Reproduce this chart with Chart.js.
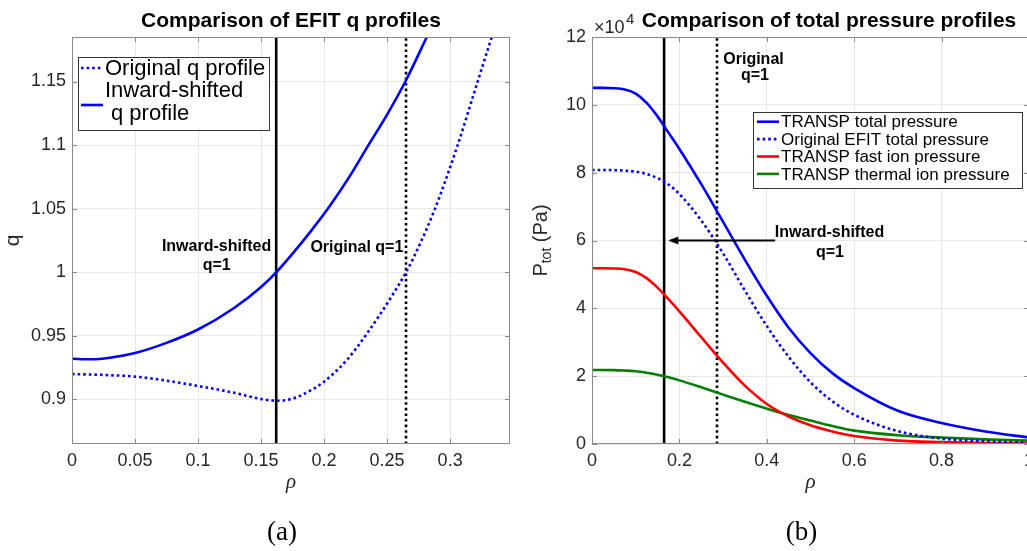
<!DOCTYPE html>
<html>
<head>
<meta charset="utf-8">
<title>EFIT q and pressure profiles</title>
<script src="https://cdn.jsdelivr.net/npm/chart.js@4.4.1/dist/chart.umd.min.js"></script>
<style>
  html, body { margin: 0; padding: 0; background: #fff; overflow: hidden; width: 1027px; height: 551px; }
  .panel { position: absolute; top: 0; width: 520px; height: 551px; }
  #panelA { left: 0; }
  #panelB { left: 520px; }
</style>
</head>
<body>
<div class="panel" id="panelA"><canvas id="qChart" width="520" height="551"></canvas></div>
<div class="panel" id="panelB"><canvas id="pChart" width="520" height="551"></canvas></div>

<script>
// 1. DATA

// (a) q profiles
const rhoInward   = [0, 0.015, 0.03, 0.05, 0.075, 0.1, 0.128, 0.15, 0.162, 0.175, 0.19, 0.2048, 0.22, 0.2352, 0.25, 0.265, 0.2815];
const qInward     = [0.932, 0.9316, 0.9328, 0.9365, 0.9445, 0.955, 0.9715, 0.9885, 1.0, 1.0147, 1.033, 1.0525, 1.075, 1.1, 1.124, 1.151, 1.185];
const rhoOriginal = [0, 0.025, 0.05, 0.075, 0.1, 0.128, 0.151, 0.163, 0.176, 0.19, 0.2, 0.218, 0.234, 0.251, 0.265, 0.271, 0.288, 0.3053, 0.3212, 0.333];
const qOriginal   = [0.92, 0.9193, 0.918, 0.9148, 0.9106, 0.9054, 0.9002, 0.899, 0.901, 0.9075, 0.914, 0.931, 0.9518, 0.977, 1.0, 1.0115, 1.05, 1.098, 1.148, 1.185];
const qOneA       = [0.162, 0.265];            // rho of q=1: inward-shifted, original
const rhoRangeA   = [0, 0.3475];
const qRange      = [0.865, 1.185];
const rhoTicksA   = [0, 0.05, 0.1, 0.15, 0.2, 0.25, 0.3];
const qTicks      = [0.9, 0.95, 1, 1.05, 1.1, 1.15];

// (b) pressure profiles, units of 1e4 Pa
const rhoGrid       = [0, 0.025, 0.05, 0.075, 0.1, 0.125, 0.15, 0.175, 0.2, 0.25, 0.3, 0.35, 0.4, 0.45, 0.5, 0.55, 0.6, 0.7, 0.8, 0.9, 1.0];
const transpTotal   = [10.5, 10.5, 10.49, 10.45, 10.33, 10.06, 9.66, 9.18, 8.70, 7.66, 6.55, 5.43, 4.37, 3.43, 2.68, 2.09, 1.65, 0.98, 0.62, 0.37, 0.19];
const efitTotal     = [8.08, 8.08, 8.075, 8.06, 8.03, 7.96, 7.84, 7.65, 7.37, 6.59, 5.62, 4.52, 3.48, 2.57, 1.82, 1.26, 0.86, 0.38, 0.16, 0.08, 0.04];
const transpFast    = [5.18, 5.18, 5.176, 5.155, 5.07, 4.89, 4.61, 4.27, 3.91, 3.15, 2.40, 1.72, 1.18, 0.81, 0.55, 0.37, 0.235, 0.1, 0.055, 0.03, 0.015];
const transpThermal = [2.18, 2.18, 2.178, 2.165, 2.143, 2.10, 2.043, 1.965, 1.876, 1.671, 1.456, 1.243, 1.04, 0.855, 0.69, 0.53, 0.395, 0.26, 0.19, 0.135, 0.1];
const qOneB         = [0.165, 0.286];
const rhoRangeB     = [0, 1];
const pRange        = [0, 12];
const rhoTicksB     = [0, 0.2, 0.4, 0.6, 0.8, 1];
const pTicks        = [0, 2, 4, 6, 8, 10, 12];
const arrowB        = [[0.419, 6], [0.1746, 6]];   // from -> to

const legendA = ['Original q profile', 'Inward-shifted', 'q profile'];
const legendB = ['TRANSP total pressure', 'Original EFIT total pressure', 'TRANSP fast ion pressure', 'TRANSP thermal ion pressure'];

// 2. STYLE HELPERS
const SANS = '"Liberation Sans", Arial, Helvetica, sans-serif';
const SERIF = '"Liberation Serif", "DejaVu Serif", serif';
const C = { blue: '#0000ff', red: '#ff0000', green: '#008000', black: '#000000', grid: '#e8e8e8', axis: '#8a8a8a', text: '#262626' };
const LW = 2.6;
const DOT = [2.6, 3];

Chart.defaults.font.family = SANS;

function curve(xs, ys, color, dotted) {
    return {
        data: xs.map((x, i) => ({ x: x, y: ys[i] })),
        borderColor: color,
        borderWidth: LW,
        borderDash: dotted ? DOT : [],
        borderCapStyle: 'butt',
        pointRadius: 0,
        fill: false,
        cubicInterpolationMode: 'monotone'
    };
}

function vline(x, range, dotted) {
    return {
        data: [{ x: x, y: range[0] }, { x: x, y: range[1] }],
        borderColor: C.black,
        borderWidth: LW,
        borderDash: dotted ? DOT : [],
        pointRadius: 0,
        tension: 0,
        fill: false
    };
}

function scale(range, ticks, fit) {
    return {
        type: 'linear',
        min: range[0],
        max: range[1],
        afterBuildTicks: s => { s.ticks = ticks.map(v => ({ value: v })); },
        afterFit: fit,
        grid: { color: C.grid, drawTicks: false, lineWidth: 1 },
        border: { display: false },
        ticks: { color: C.text, font: { size: 18 }, padding: 6, maxRotation: 0, autoSkip: false, callback: v => String(v) }
    };
}

function txt(ctx, s, x, y, font, align, base, color) {
    ctx.font = font;
    ctx.textAlign = align || 'center';
    ctx.textBaseline = base || 'middle';
    ctx.fillStyle = color || C.black;
    ctx.fillText(s, x, y);
}

function seg(ctx, x1, y1, x2, y2, color, width, dash) {
    ctx.beginPath();
    ctx.setLineDash(dash || []);
    ctx.strokeStyle = color;
    ctx.lineWidth = width;
    ctx.moveTo(x1, y1);
    ctx.lineTo(x2, y2);
    ctx.stroke();
    ctx.setLineDash([]);
}

// box + inward tick marks, matlab style
function drawFrame(chart) {
    const { ctx, chartArea: a, scales: { x, y } } = chart;
    ctx.save();
    x.ticks.forEach(t => {
        const px = Math.round(x.getPixelForValue(t.value)) + 0.5;
        seg(ctx, px, a.bottom, px, a.bottom - 5, C.axis, 1);
        seg(ctx, px, a.top, px, a.top + 5, C.axis, 1);
    });
    y.ticks.forEach(t => {
        const py = Math.round(y.getPixelForValue(t.value)) + 0.5;
        seg(ctx, a.left, py, a.left + 5, py, C.axis, 1);
        seg(ctx, a.right, py, a.right - 5, py, C.axis, 1);
    });
    ctx.strokeStyle = C.axis;
    ctx.lineWidth = 1;
    ctx.strokeRect(a.left + 0.5, a.top + 0.5, a.width - 1, a.height - 1);
    ctx.restore();
}

// 3. PANEL DECORATIONS
const decorA = {
    id: 'decorA',
    afterDraw(chart) {
        const { ctx, chartArea: a, scales: { x, y } } = chart;
        drawFrame(chart);
        ctx.save();
        const mid = (a.left + a.right) / 2;
        txt(ctx, 'Comparison of EFIT q profiles', mid, 27, 'bold 21px ' + SANS, 'center', 'alphabetic');

        // axis titles
        ctx.save();
        ctx.translate(13, (a.top + a.bottom) / 2);
        ctx.rotate(-Math.PI / 2);
        txt(ctx, 'q', 0, 0, '21px ' + SANS, 'center', 'middle', C.text);
        ctx.restore();
        txt(ctx, 'ρ', mid, 482, 'italic 21px ' + SERIF, 'center', 'middle', C.text);
        txt(ctx, '(a)', mid - 9, 533, '27px ' + SERIF, 'center', 'middle');

        // annotations
        const bold = 'bold 16px ' + SANS;
        txt(ctx, 'Inward-shifted', x.getPixelForValue(0.1147), y.getPixelForValue(1.0199), bold);
        txt(ctx, 'q=1', x.getPixelForValue(0.1148), y.getPixelForValue(1.005), bold);
        txt(ctx, 'Original q=1', x.getPixelForValue(0.226), y.getPixelForValue(1.0194), bold);

        // legend
        ctx.fillStyle = '#fff';
        ctx.fillRect(78.5, 57.5, 191, 73);
        ctx.strokeStyle = '#333';
        ctx.lineWidth = 1;
        ctx.strokeRect(78.5, 57.5, 191, 73);
        seg(ctx, 81, 68, 103, 68, C.blue, LW, DOT);
        seg(ctx, 81, 105, 103, 105, C.blue, LW);
        const lf = '22px ' + SANS;
        txt(ctx, legendA[0], 105, 69, lf, 'left', 'middle');
        txt(ctx, legendA[1], 105, 91, lf, 'left', 'middle');
        txt(ctx, legendA[2], 111, 114, lf, 'left', 'middle');
        ctx.restore();
    }
};

const decorB = {
    id: 'decorB',
    afterDraw(chart) {
        const { ctx, chartArea: a, scales: { x, y } } = chart;
        drawFrame(chart);
        ctx.save();
        const mid = (a.left + a.right) / 2;
        txt(ctx, 'Comparison of total pressure profiles', 309, 27, 'bold 21px ' + SANS, 'center', 'alphabetic');
        txt(ctx, '×10', 74, 33, '18px ' + SANS, 'left', 'alphabetic', C.text);
        txt(ctx, '4', 106, 24, '15px ' + SANS, 'left', 'alphabetic', C.text);

        // y title with subscript
        ctx.save();
        ctx.translate(21, (a.top + a.bottom) / 2);
        ctx.rotate(-Math.PI / 2);
        ctx.font = '20px ' + SANS;
        const wP = ctx.measureText('P').width;
        const wR = ctx.measureText(' (Pa)').width;
        ctx.font = '14px ' + SANS;
        const wS = ctx.measureText('tot').width;
        const x0 = -(wP + wS + wR) / 2;
        txt(ctx, 'P', x0, 0, '20px ' + SANS, 'left', 'middle', C.text);
        txt(ctx, 'tot', x0 + wP, 6, '14px ' + SANS, 'left', 'middle', C.text);
        txt(ctx, ' (Pa)', x0 + wP + wS, 0, '20px ' + SANS, 'left', 'middle', C.text);
        ctx.restore();

        txt(ctx, 'ρ', mid, 482, 'italic 21px ' + SERIF, 'center', 'middle', C.text);
        txt(ctx, '(b)', mid - 9, 533, '27px ' + SERIF, 'center', 'middle');

        // annotations
        const bold = 'bold 16px ' + SANS;
        txt(ctx, 'Original', x.getPixelForValue(0.3696), y.getPixelForValue(11.33), bold);
        txt(ctx, 'q=1', x.getPixelForValue(0.373), y.getPixelForValue(10.86), bold);
        txt(ctx, 'Inward-shifted', x.getPixelForValue(0.5435), y.getPixelForValue(6.23), bold);
        txt(ctx, 'q=1', x.getPixelForValue(0.5446), y.getPixelForValue(5.65), bold);

        // arrow
        const ax1 = x.getPixelForValue(arrowB[0][0]), ay = y.getPixelForValue(arrowB[0][1]);
        const ax2 = x.getPixelForValue(arrowB[1][0]);
        seg(ctx, ax1, ay, ax2 + 2, ay, C.black, 2);
        ctx.beginPath();
        ctx.fillStyle = C.black;
        ctx.moveTo(ax2, ay);
        ctx.lineTo(ax2 + 10, ay - 4);
        ctx.lineTo(ax2 + 10, ay + 4);
        ctx.closePath();
        ctx.fill();

        // legend
        ctx.fillStyle = '#fff';
        ctx.fillRect(233.5, 112.5, 269, 76);
        ctx.strokeStyle = '#333';
        ctx.lineWidth = 1;
        ctx.strokeRect(233.5, 112.5, 269, 76);
        const colors = [C.blue, C.blue, C.red, C.green];
        const rows = [121.7, 139.1, 156.5, 173.9];
        legendB.forEach((s, i) => {
            seg(ctx, 237, rows[i], 259, rows[i], colors[i], LW, i === 1 ? DOT : []);
            txt(ctx, s, 261, rows[i] + 1, '17px ' + SANS, 'left', 'middle');
        });
        ctx.restore();
    }
};

// 4. CHARTS
function baseOptions(padRight, xs, ys) {
    return {
        responsive: false,
        animation: false,
        events: [],
        layout: { padding: { top: 37, right: padRight, left: 0, bottom: 0 } },
        plugins: { legend: { display: false }, tooltip: { enabled: false } },
        scales: {
            x: scale(xs[0], xs[1], s => { s.height = 107; }),
            y: scale(ys[0], ys[1], s => { s.width = 72; })
        }
    };
}

new Chart(document.getElementById('qChart'), {
    type: 'line',
    data: {
        datasets: [
            curve(rhoInward, qInward, C.blue, false),
            curve(rhoOriginal, qOriginal, C.blue, true),
            vline(qOneA[0], qRange, false),
            vline(qOneA[1], qRange, true)
        ]
    },
    options: baseOptions(10, [rhoRangeA, rhoTicksA], [qRange, qTicks]),
    plugins: [decorA]
});

new Chart(document.getElementById('pChart'), {
    type: 'line',
    data: {
        datasets: [
            curve(rhoGrid, transpTotal, C.blue, false),
            curve(rhoGrid, efitTotal, C.blue, true),
            curve(rhoGrid, transpFast, C.red, false),
            curve(rhoGrid, transpThermal, C.green, false),
            vline(qOneB[0], pRange, false),
            vline(qOneB[1], pRange, true)
        ]
    },
    options: baseOptions(11, [rhoRangeB, rhoTicksB], [pRange, pTicks]),
    plugins: [decorB]
});
</script>
</body>
</html>
